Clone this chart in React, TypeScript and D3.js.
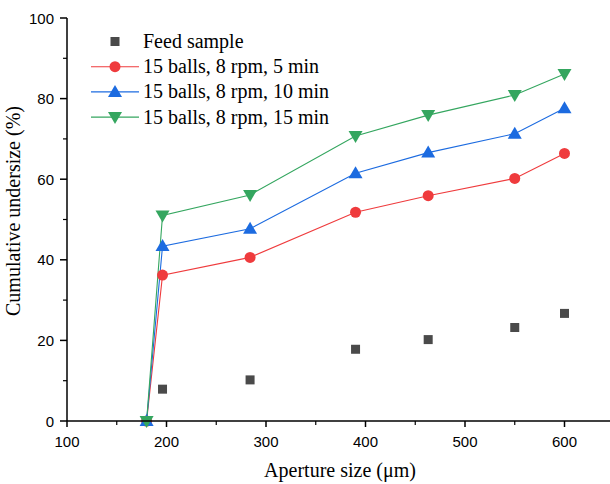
import React from "react";
import * as d3 from "d3";

const apertures = [180, 196, 284, 390, 463, 550, 600];
const feedSample = [0, 7.9, 10.2, 17.8, 20.2, 23.2, 26.7];
const min5 = [0, 36.2, 40.6, 51.8, 55.9, 60.2, 66.4];
const min10 = [0, 43.4, 47.7, 61.5, 66.6, 71.3, 77.6];
const min15 = [0, 51.0, 56.1, 70.7, 75.9, 80.9, 86.1];
const xTicks = [100, 200, 300, 400, 500, 600];
const yTicks = [0, 20, 40, 60, 80, 100];
const legendLabels = ["Feed sample", "15 balls, 8 rpm, 5 min", "15 balls, 8 rpm, 10 min", "15 balls, 8 rpm, 15 min"];

const W = 610, H = 484;
const x = d3.scaleLinear().domain([100, 600]).range([67, 564.5]);
const y = d3.scaleLinear().domain([0, 100]).range([421, 18]);

const colors = { feed: "#4a4a4a", red: "#ef3b3d", blue: "#1c6be0", green: "#34a65f" };

function Marker({ kind, cx, cy, color }: { kind: string; cx: number; cy: number; color: string }) {
  if (kind === "square") return <rect x={cx - 4.5} y={cy - 4.5} width={9} height={9} fill={color} />;
  if (kind === "circle") return <circle cx={cx} cy={cy} r={5.5} fill={color} />;
  if (kind === "up") return <path d={`M${cx},${cy - 7} L${cx + 7},${cy + 5} L${cx - 7},${cy + 5} Z`} fill={color} />;
  return <path d={`M${cx},${cy + 7} L${cx + 7},${cy - 5} L${cx - 7},${cy - 5} Z`} fill={color} />;
}

export default function App() {
  const line = d3.line<number>().x((_, i) => x(apertures[i])).y((d) => y(d));
  const series = [
    { vals: min5, color: colors.red, kind: "circle" },
    { vals: min10, color: colors.blue, kind: "up" },
    { vals: min15, color: colors.green, kind: "down" },
  ];
  const xMinor = d3.range(150, 650, 100);
  const yMinor = d3.range(10, 100, 20);
  const serif = "'Liberation Serif', 'Times New Roman', serif";
  const sans = "'Liberation Sans', Arial, sans-serif";
  return (
    <svg width={W} height={H} style={{ position: "absolute", left: 0, top: 0 }}>
      <rect width={W} height={H} fill="#fff" />
      {series.map((s, k) => (
        <path key={k} d={line(s.vals) || ""} fill="none" stroke={s.color} strokeWidth={1.1} />
      ))}
      {feedSample.map((v, i) => (
        <Marker key={"f" + i} kind="square" cx={x(apertures[i])} cy={y(v)} color={colors.feed} />
      ))}
      {series.map((s, k) =>
        s.vals.map((v, i) => <Marker key={k + "-" + i} kind={s.kind} cx={x(apertures[i])} cy={y(v)} color={s.color} />)
      )}
      {/* axes */}
      <line x1={67} x2={610} y1={421} y2={421} stroke="#000" strokeWidth={1.5} />
      <line x1={67} x2={67} y1={18} y2={421} stroke="#000" strokeWidth={1.5} />
      {xTicks.map((t) => (
        <g key={"xt" + t}>
          <line x1={x(t)} x2={x(t)} y1={421} y2={427} stroke="#000" strokeWidth={1.5} />
          <text x={x(t)} y={447} textAnchor="middle" fontFamily={sans} fontSize={15}>{t}</text>
        </g>
      ))}
      {xMinor.map((t) => (
        <line key={"xm" + t} x1={x(t)} x2={x(t)} y1={421} y2={425} stroke="#000" strokeWidth={1.2} />
      ))}
      {yTicks.map((t) => (
        <g key={"yt" + t}>
          <line x1={60} x2={67} y1={y(t)} y2={y(t)} stroke="#000" strokeWidth={1.5} />
          <text x={54} y={y(t) + 5.5} textAnchor="end" fontFamily={sans} fontSize={15}>{t}</text>
        </g>
      ))}
      {yMinor.map((t) => (
        <line key={"ym" + t} x1={63} x2={67} y1={y(t)} y2={y(t)} stroke="#000" strokeWidth={1.2} />
      ))}
      <text x={340} y={477} textAnchor="middle" fontFamily={serif} fontSize={20}>Aperture size (μm)</text>
      <text transform="translate(20,211) rotate(-90)" textAnchor="middle" fontFamily={serif} fontSize={20}>Cumulative undersize (%)</text>
      {/* legend */}
      {legendLabels.map((lab, i) => {
        const ly = 41.5 + i * 25.2;
        const kinds = ["square", "circle", "up", "down"];
        const cols = [colors.feed, colors.red, colors.blue, colors.green];
        return (
          <g key={"lg" + i}>
            {i > 0 && <line x1={91} x2={139} y1={ly} y2={ly} stroke={cols[i]} strokeWidth={1.1} />}
            <Marker kind={kinds[i]} cx={115} cy={ly} color={cols[i]} />
            <text x={143} y={ly + 6.5} fontFamily={serif} fontSize={20}>{lab}</text>
          </g>
        );
      })}
    </svg>
  );
}
